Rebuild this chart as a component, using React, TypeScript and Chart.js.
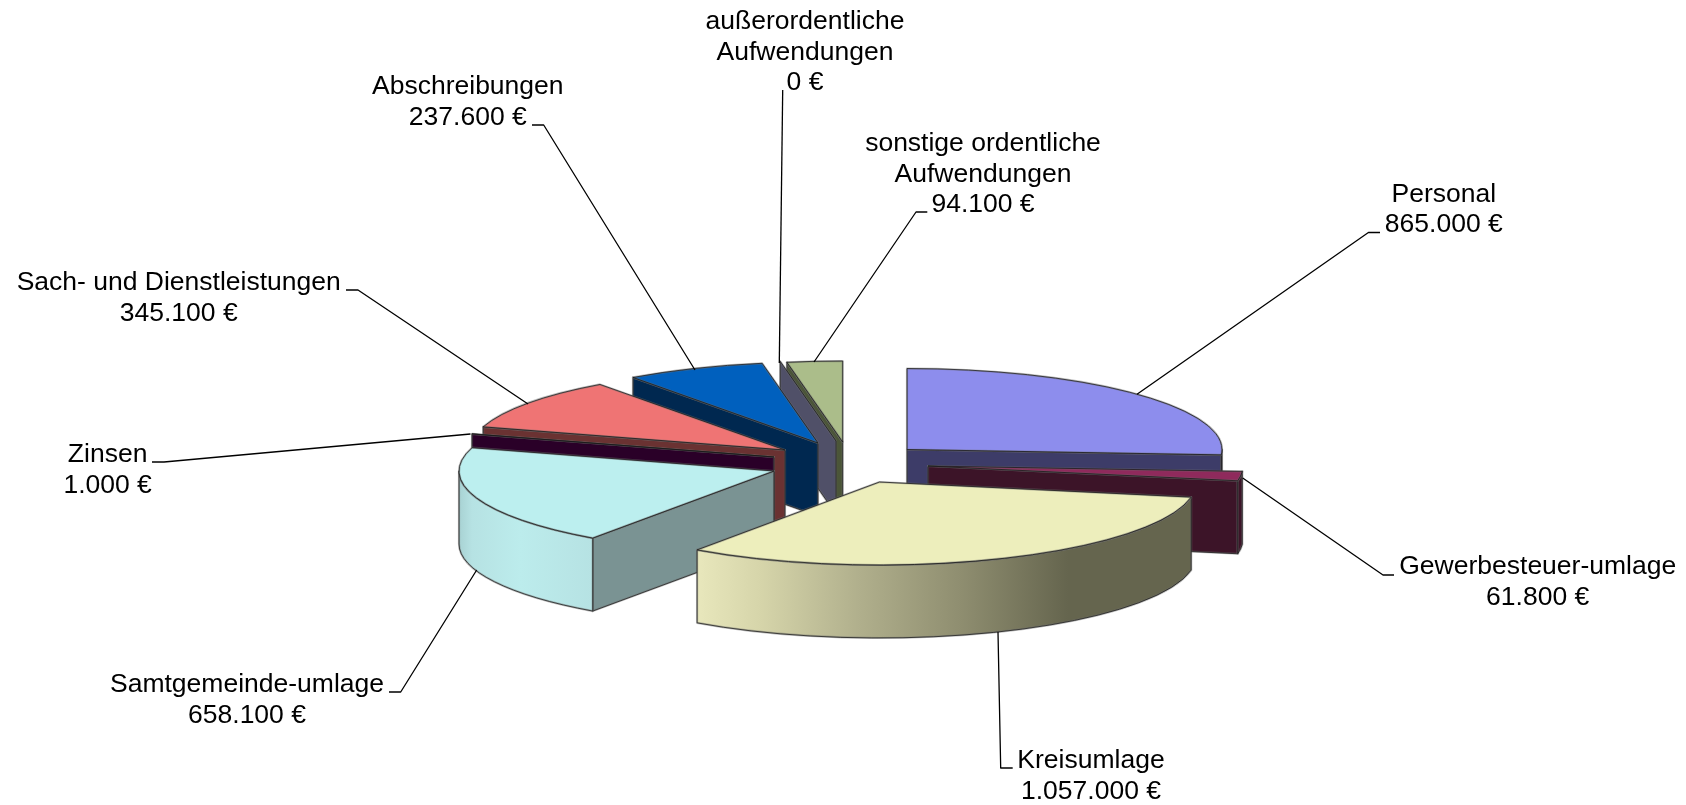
import React, { useEffect, useRef } from "react";
import { Chart, registerables } from "chart.js";

Chart.register(...registerables);

// ---------- data ----------
const categories = [
  "Personal",
  "Gewerbesteuer-umlage",
  "Kreisumlage",
  "Samtgemeinde-umlage",
  "Zinsen",
  "Sach- und Dienstleistungen",
  "Abschreibungen",
  "außerordentliche Aufwendungen",
  "sonstige ordentliche Aufwendungen",
];
const values = [865000, 61800, 1057000, 658100, 1000, 345100, 237600, 0, 94100];
const labelLines = [
  ["Personal"],
  ["Gewerbesteuer-umlage"],
  ["Kreisumlage"],
  ["Samtgemeinde-umlage"],
  ["Zinsen"],
  ["Sach- und Dienstleistungen"],
  ["Abschreibungen"],
  ["außerordentliche", "Aufwendungen"],
  ["sonstige ordentliche", "Aufwendungen"],
];
const topColors = ["#8d8ded", "#8f2a5c", "#edeebc", "#bcefef", "#6a0a6a", "#ef7474", "#0060be", "#7a7aa0", "#abbd8a"];
const wallColors = ["#3d3c68", "#3c1428", "#65654e", "#7a9393", "#2a0028", "#6a3232", "#002850", "#505068", "#4b5538"];

// ---------- layout ----------
const radiiX = [315, 315, 317, 315, 315, 315, 315, 315, 315];
const radiiY = [81, 81, 83, 82, 81, 81, 81, 81, 81];
const DEPTH = 73;
const FONT = '26.5px "Liberation Sans", Arial, sans-serif';
const LINE = 30.6;
const apexes = [
  [907, 449.5], [928, 466], [879.5, 482], [774, 471], [774, 457],
  [785, 450], [818, 443], [836, 441], [842.7, 442],
];
const drawOrder = [0, 8, 7, 6, 5, 4, 3, 1, 2];
const rimStops: Record<number, [number, string][]> = {
  2: [[697, "#e8e7bc"], [760, "#d6d5aa"], [860, "#b0af8c"], [960, "#8f8e70"], [1068, "#65654e"], [1190, "#65654e"]],
  3: [[459, "#a8d2d3"], [472, "#b6e2e3"], [520, "#bcecec"], [593, "#b6e2e3"]],
};
const labelAnchors = [
  [1443.8, 201.7], [1537.7, 574], [1091, 768], [247, 692], [107.6, 462.3],
  [178.7, 290], [467.8, 94.3], [805, 29], [983, 151],
];
const leaders = [
  [[1380, 232.5], [1368.4, 232.5], [1137, 394.3]],
  [[1394, 575], [1383, 575], [1242.7, 478]],
  [[1012.7, 768], [1000.7, 768], [998, 632]],
  [[389, 692], [400.7, 692], [476.7, 570]],
  [[152, 462], [164, 462], [470.5, 434]],
  [[346, 290], [358, 290], [528, 404]],
  [[532, 125], [543.7, 125], [695, 370]],
  [[782.7, 90], [779.3, 363]],
  [[927.3, 212], [916, 212], [814, 362]],
];

const euro = (v: number) => String(v).replace(/\B(?=(\d{3})+(?!\d))/g, ".") + " €";

function strokeFace(ctx: CanvasRenderingContext2D) {
  ctx.lineJoin = "round";
  ctx.strokeStyle = "rgba(110,110,110,0.45)";
  ctx.lineWidth = 2.2;
  ctx.stroke();
  ctx.strokeStyle = "rgba(25,25,25,0.85)";
  ctx.lineWidth = 0.9;
  ctx.stroke();
}

const pie3d = {
  id: "pie3d",
  beforeDatasetsDraw(chart: any) {
    const ctx: CanvasRenderingContext2D = chart.ctx;
    const meta = chart.getDatasetMeta(0);
    for (const i of drawOrder) {
      const arc = meta.data[i];
      const [ax, ay] = apexes[i];
      const RX = radiiX[i];
      const RY = radiiY[i];
      const a0 = arc.startAngle;
      const a1 = arc.endAngle;
      const px = (a: number) => ax + RX * Math.cos(a);
      const py = (a: number) => ay + RY * Math.sin(a);
      const wall = (a: number) => {
        ctx.beginPath();
        ctx.moveTo(ax, ay);
        ctx.lineTo(px(a), py(a));
        ctx.lineTo(px(a), py(a) + DEPTH);
        ctx.lineTo(ax, ay + DEPTH);
        ctx.closePath();
        ctx.fillStyle = wallColors[i];
        ctx.fill();
        strokeFace(ctx);
      };
      // radial walls turned towards the viewer
      if (Math.sin(a0 + Math.PI / 2) < 0) wall(a0);
      if (Math.sin(a1 + Math.PI / 2) > 0) wall(a1);
      // outer rim: only the front half of the ellipse
      const r0 = Math.max(a0, 0);
      const r1 = Math.min(a1, Math.PI);
      if (r1 > r0) {
        ctx.beginPath();
        ctx.ellipse(ax, ay, RX, RY, 0, r0, r1);
        ctx.ellipse(ax, ay + DEPTH, RX, RY, 0, r1, r0, true);
        ctx.closePath();
        const stops = rimStops[i];
        if (stops) {
          const x0 = stops[0][0];
          const x1 = stops[stops.length - 1][0];
          const g = ctx.createLinearGradient(x0, 0, x1, 0);
          stops.forEach(([x, c]) => g.addColorStop((x - x0) / (x1 - x0), c));
          ctx.fillStyle = g;
        } else {
          ctx.fillStyle = wallColors[i];
        }
        ctx.fill();
        strokeFace(ctx);
      }
      // top face: the library's own arc element, squashed into the ellipse
      if (a1 > a0) {
        ctx.save();
        ctx.translate(ax, ay);
        ctx.scale(RX / arc.outerRadius, RY / arc.outerRadius);
        ctx.translate(-arc.x, -arc.y);
        arc.draw(ctx);
        ctx.restore();
        ctx.beginPath();
        ctx.moveTo(ax, ay);
        ctx.ellipse(ax, ay, RX, RY, 0, a0, a1);
        ctx.closePath();
        strokeFace(ctx);
      }
    }
    return false;
  },
  afterDraw(chart: any) {
    const ctx: CanvasRenderingContext2D = chart.ctx;
    ctx.save();
    ctx.strokeStyle = "#000";
    ctx.lineWidth = 1.3;
    leaders.forEach((pts) => {
      ctx.beginPath();
      pts.forEach(([x, y], k) => (k ? ctx.lineTo(x, y) : ctx.moveTo(x, y)));
      ctx.stroke();
    });
    ctx.fillStyle = "#000";
    ctx.font = FONT;
    ctx.textAlign = "center";
    ctx.textBaseline = "alphabetic";
    categories.forEach((_, i) => {
      const [x, y] = labelAnchors[i];
      [...labelLines[i], euro(values[i])].forEach((t, k) => ctx.fillText(t, x, y + k * LINE));
    });
    ctx.restore();
  },
};

export default function App() {
  const ref = useRef<HTMLCanvasElement>(null);
  useEffect(() => {
    const chart = new Chart(ref.current as HTMLCanvasElement, {
      type: "pie",
      data: {
        labels: categories,
        datasets: [{ data: values, backgroundColor: topColors, borderWidth: 0 }],
      },
      options: {
        animation: false,
        responsive: false,
        layout: { padding: 0 },
        plugins: { legend: { display: false }, tooltip: { enabled: false }, title: { display: false } },
      },
      plugins: [pie3d],
    } as any);
    return () => chart.destroy();
  }, []);
  return (
    <canvas
      ref={ref}
      width={1686}
      height={805}
      style={{ position: "absolute", left: 0, top: 0, display: "block", background: "#fff" }}
    />
  );
}
